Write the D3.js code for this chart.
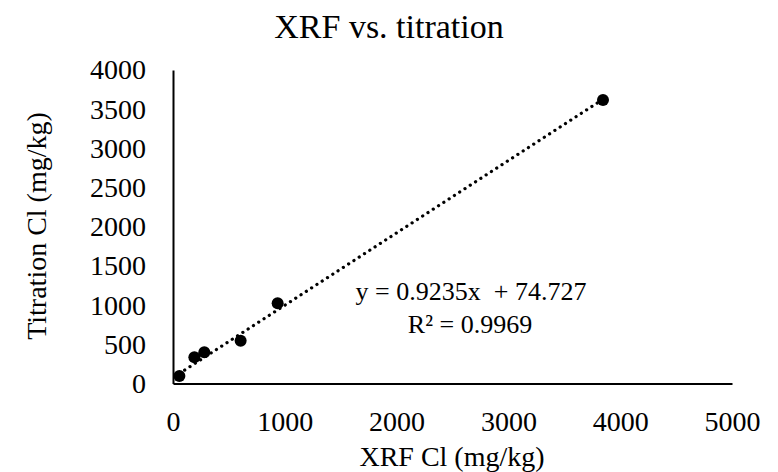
<!DOCTYPE html>
<html><head><meta charset="utf-8">
<script src="https://cdn.jsdelivr.net/npm/d3@7"></script>
<style>body{margin:0;background:#fff}svg{display:block}</style>
</head><body>
<script>
const xrf = [57, 191, 280, 605, 936, 3846];
const titration = [96, 334, 398, 546, 1023, 3616];
const xTicks = [0, 1000, 2000, 3000, 4000, 5000];
const yTicks = [0, 500, 1000, 1500, 2000, 2500, 3000, 3500, 4000];
const slope = 0.9235, intercept = 74.727;
const title = "XRF vs. titration";
const xLabel = "XRF Cl (mg/kg)";
const yLabel = "Titration Cl (mg/kg)";
const eqText = "y = 0.9235x  + 74.727";
const r2Text = "R\u00B2 = 0.9969";

const FONT = "'Liberation Serif', 'Times New Roman', serif";
const W = 778, H = 472;
const svg = d3.select("body").append("svg").attr("width", W).attr("height", H)
  .style("font-family", FONT);
const x = d3.scaleLinear().domain([0, 5000]).range([173, 732]);
const y = d3.scaleLinear().domain([0, 4000]).range([383.5, 70]);

// axes
const xa = svg.append("g").attr("transform", `translate(0,${y(0)})`)
  .call(d3.axisBottom(x).tickValues(xTicks).tickSize(0).tickPadding(28).tickFormat(d3.format("d")));
xa.attr("font-family", null);
xa.select(".domain").attr("stroke", "#000").attr("stroke-width", 2);
xa.selectAll("text").style("font-family", FONT).style("font-size", "28px").attr("fill", "#000");

const ya = svg.append("g").attr("transform", `translate(${x(0)},0)`)
  .call(d3.axisLeft(y).tickValues(yTicks).tickSize(0).tickPadding(27).tickFormat(d3.format("d")));
ya.attr("font-family", null);
ya.select(".domain").attr("stroke", "#000").attr("stroke-width", 2);
ya.selectAll("text").style("font-family", FONT).style("font-size", "28px").attr("fill", "#000");

// trendline
const x0 = d3.min(xrf), x1 = d3.max(xrf);
svg.append("line")
  .attr("x1", x(x0)).attr("y1", y(slope * x0 + intercept))
  .attr("x2", x(x1)).attr("y2", y(slope * x1 + intercept))
  .attr("stroke", "#000").attr("stroke-width", 3.2)
  .attr("stroke-linecap", "round").attr("stroke-dasharray", "0.1 6.2");

// points
svg.append("g").selectAll("circle").data(xrf).join("circle")
  .attr("cx", d => x(d)).attr("cy", (d, i) => y(titration[i]))
  .attr("r", 6).attr("fill", "#000");

// texts
function txt(s, xx, yy, size) {
  return svg.append("text").attr("x", xx).attr("y", yy).attr("text-anchor", "middle")
    .style("font-family", FONT).style("font-size", size + "px").style("white-space", "pre")
    .attr("fill", "#000").text(s);
}
txt(title, 389, 38, 34);
txt(xLabel, 452, 466, 28);
txt(yLabel, 0, 0, 28).attr("x", null).attr("y", null).attr("transform", `translate(46,226) rotate(-90)`);
txt(eqText, 471, 300, 26);
txt(r2Text, 470, 333, 26);
</script>
</body></html>
